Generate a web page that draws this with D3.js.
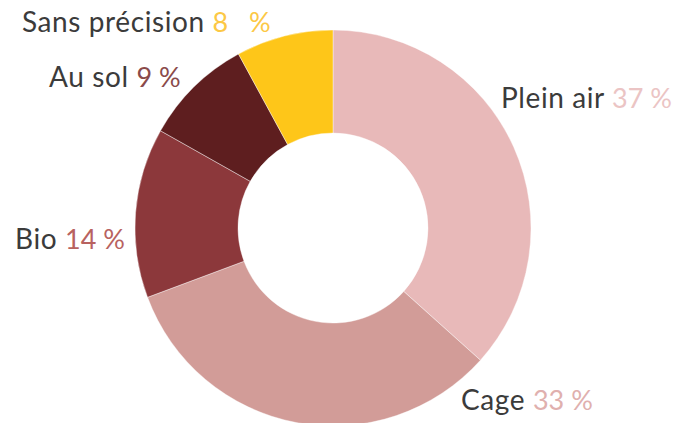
<!DOCTYPE html>
<html>
<head>
<meta charset="utf-8">
<script src="https://cdn.jsdelivr.net/npm/d3@7"></script>
<style>
  body { margin: 0; background: #fff; }
  text { font-family: Lato, "Open Sans", sans-serif; }
</style>
</head>
<body>
<div id="chart"></div>
<script>
// data
const categories = ["Plein air", "Cage", "Bio", "Au sol", "Sans précision"];
const values = [37, 33, 14, 9, 8];
const valueLabels = ["37 %", "33 %", "14 %", "9 %", "8   %"];

const sliceColors = ["#e8b9b9", "#d29c98", "#8c383b", "#5e1e1f", "#fec619"];
const numberColors = ["#ebc4c4", "#e0b0ae", "#b8625f", "#8a4a4a", "#fcc845"];

// label anchors (left x, baseline y), placed by hand like the original
const labelPos = [[501, 108], [461, 410], [15, 249], [49, 87], [22, 32]];

const width = 692, height = 423;
const cx = 333, cy = 228;

const svg = d3.select("#chart").append("svg")
    .attr("width", width)
    .attr("height", height);

svg.append("rect")
  .attr("width", "100%")
  .attr("height", "100%")
  .attr("fill", "#fff");

const pie = d3.pie().sort(null).value(d => d);
const arc = d3.arc().innerRadius(95).outerRadius(198);

const g = svg.append("g").attr("transform", `translate(${cx},${cy})`);

g.selectAll("path")
  .data(pie(values))
  .enter().append("path")
    .attr("d", arc)
    .attr("fill", (d, i) => sliceColors[i])
    .style("stroke", "#fff")
    .style("stroke-width", 0.4);

const labels = svg.append("g")
  .selectAll("text")
  .data(categories)
  .enter().append("text")
    .attr("x", (d, i) => labelPos[i][0])
    .attr("y", (d, i) => labelPos[i][1])
    .style("font-size", "28px")
    .style("white-space", "pre");

labels.append("tspan")
  .attr("fill", "#3b3b3b")
  .style("letter-spacing", "0.6px")
  .text(d => d + " ");

labels.append("tspan")
  .attr("fill", (d, i) => numberColors[i])
  .style("font-size", "27px")
  .text((d, i) => valueLabels[i]);
</script>
</body>
</html>
